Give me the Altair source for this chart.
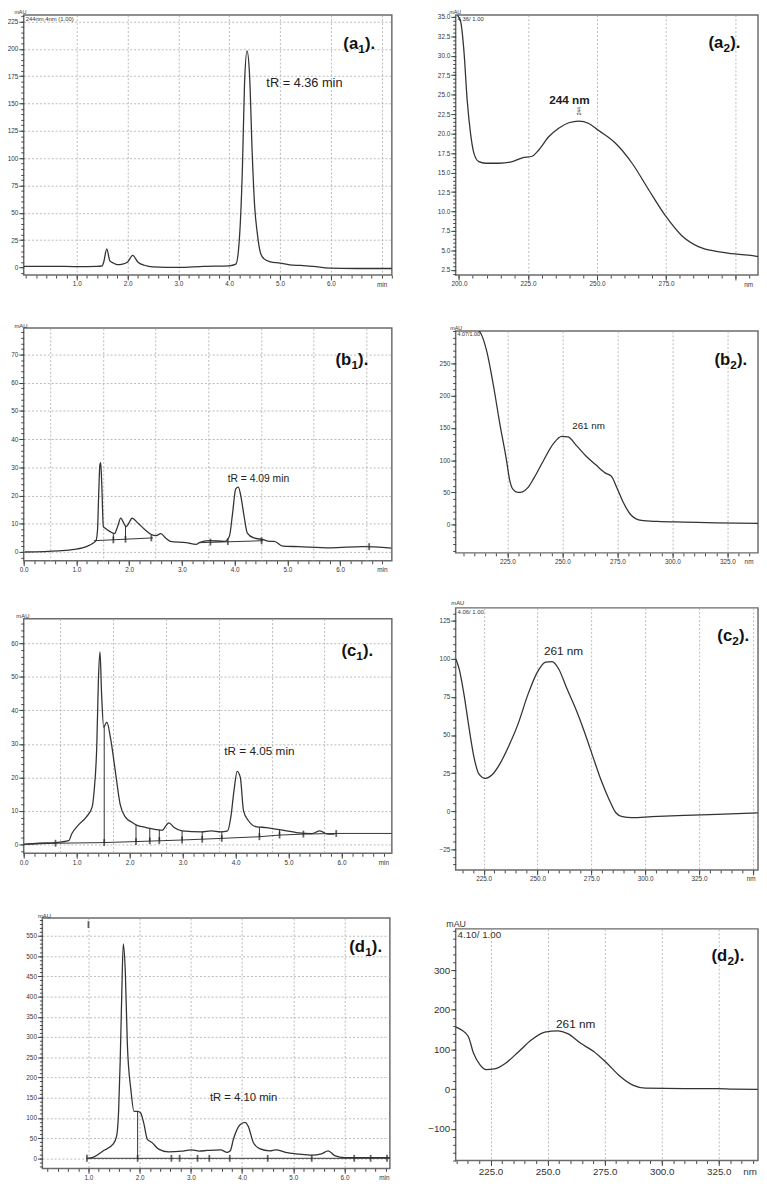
import altair as alt
import numpy as np
import pandas as pd

FONT = "Liberation Sans"
INK = "#333333"
LAB = "#333333"
GRID = "#a8a8a8"

# ---------------- data ----------------
# (a1) chromatogram
a1_t = [-0.05, 0.5, 1.0, 1.4, 1.5, 1.53, 1.59, 1.65, 1.72, 1.8, 1.9, 2.0, 2.1, 2.2, 2.33, 2.5, 3.0, 3.5, 4.0, 4.13,
        4.19, 4.26, 4.30, 4.35, 4.40, 4.45, 4.50, 4.55, 4.61, 4.68, 4.81, 5.0, 5.19, 5.4, 5.65, 5.97, 6.5, 7.2]
a1_v = [1, 1, 0.8, 1, 1.5, 5, 17, 6, 4, 2.5, 3, 5, 11, 5, 2, 0.5, 0, 1, 1.5, 3,
        20, 92, 167, 198, 176, 107, 56, 32, 14, 8, 5, 4, 2.4, 1.8, 1, -0.6, -1, -1]
# (a2) spectrum
a2_nm = [199.4, 200.6, 201.8, 203, 204.2, 205.4, 207.2, 209.6, 214.5, 219.3, 222.9, 226.5, 228.9, 232.5, 236.1,
         239.8, 243.4, 247, 250.6, 256.6, 262.7, 268.7, 274.7, 280.7, 286.7, 292.8, 298.8, 304.8, 308.4]
a2_v = [35.2, 34.4, 30.6, 24.2, 20, 17.5, 16.4, 16.2, 16.2, 16.4, 16.9, 17.1, 17.9, 19.6, 20.7,
        21.4, 21.6, 21.3, 20.4, 18.8, 16.2, 12.8, 9.5, 6.9, 5.5, 4.9, 4.6, 4.4, 4.2]
# (b1) chromatogram
b1_t = [0.02, 0.66, 0.96, 1.20, 1.32, 1.37, 1.40, 1.42, 1.445, 1.46, 1.48, 1.51, 1.54, 1.63, 1.72, 1.78, 1.84,
        1.90, 1.94, 2.02, 2.05, 2.17, 2.30, 2.42, 2.51, 2.60, 2.69, 2.78, 3.08, 3.27, 3.33, 3.51, 3.81, 3.90,
        3.96, 4.02, 4.07, 4.12, 4.18, 4.24, 4.36, 4.54, 4.66, 4.75, 4.91, 5.21, 5.82, 6.42, 6.97]
b1_v = [0, 0.4, 0.9, 2, 3.2, 4, 7.9, 19.5, 31, 31.7, 24, 9, 8.5, 7.3, 6.5, 9, 12,
        10.2, 9, 11.1, 12, 10.2, 7.9, 6.2, 5.8, 6.5, 5, 3.8, 3.3, 2.7, 3.3, 4, 3.8, 5.6,
        13.7, 22.4, 23, 19.5, 12.5, 6.7, 5, 4.4, 3.8, 3.8, 2.1, 1.9, 1.5, 1.9, 1.4]
b1_base_t1 = [1.33, 3.33]
b1_base_t2 = [2.45, 4.54]
b1_base_v1 = [4.0, 3.3]
b1_base_v2 = [5.0, 4.0]
b1_mark_t = [1.70, 1.93, 2.42, 3.54, 3.87, 4.51, 6.55]
b1_mark_v = [4.3, 4.5, 5.0, 3.5, 3.7, 4.0, 1.9]
b1_drop_t = [1.70, 1.93]
b1_drop_lo = [4.3, 4.5]
b1_drop_hi = [6.5, 9.0]
# (b2) spectrum
b2_nm = [211.3, 212.7, 215.7, 218.6, 221.6, 224.6, 226, 227.5, 229.7, 231.9, 234.2, 237.1, 241.5, 246, 249.7,
         252.6, 256.3, 260.7, 265.2, 269.6, 272.3, 274.8, 277.7, 281.4, 285.9, 293.2, 305, 319.8, 339]
b2_v = [303, 298, 268, 217, 156, 100, 70, 55, 50, 51, 57, 72.5, 100, 126, 137,
        136, 123, 106.5, 92.8, 80, 75, 57, 34.5, 14.2, 6.6, 5, 4, 3, 2]
# (c1) chromatogram
c1_t = [0.0, 0.29, 0.60, 0.85, 0.91, 1.03, 1.18, 1.29, 1.33, 1.38, 1.41, 1.44, 1.47, 1.51, 1.57, 1.64, 1.73,
        1.82, 1.92, 2.04, 2.13, 2.31, 2.50, 2.62, 2.68, 2.74, 2.84, 2.99, 3.36, 3.54, 3.72, 3.85, 3.91, 3.97,
        4.03, 4.09, 4.15, 4.24, 4.40, 4.58, 4.89, 5.19, 5.44, 5.59, 5.74, 5.87]
c1_v = [0, 0.3, 0.5, 1.1, 3.2, 5.7, 8.1, 11, 16, 29.6, 49, 57.5, 45, 35, 36.5, 31.6, 21.8,
        12, 8.1, 6.6, 5.7, 5, 4.4, 4.2, 5.4, 6.4, 5, 4, 3.7, 4, 3.7, 4, 8.1, 16,
        21.8, 19.9, 10, 7.1, 5.2, 5, 4.2, 3.4, 3.2, 4, 3, 3]
c1_base_t = [0.05, 0.60, 1.52, 2.12, 2.99, 3.74, 4.45, 4.83, 5.28, 5.90, 6.95]
c1_base_v = [0, 0.3, 0.5, 0.8, 1.27, 1.76, 2.25, 2.74, 3.03, 3.23, 3.23]
c1_mark_t = [0.60, 1.52, 2.12, 2.38, 2.56, 2.99, 3.37, 3.74, 4.45, 4.83, 5.28, 5.90]
c1_mark_v = [0.3, 0.5, 0.8, 1.0, 1.1, 1.27, 1.5, 1.76, 2.25, 2.74, 3.03, 3.23]
c1_drop_t = [1.52, 2.12, 2.38, 2.56, 2.99, 3.37, 3.74, 4.45, 4.83, 5.28, 5.90]
c1_drop_lo = [0.5, 0.8, 1.0, 1.1, 1.27, 1.5, 1.76, 2.25, 2.74, 3.03, 3.23]
c1_drop_hi = [35.3, 5.7, 4.8, 4.3, 4.0, 3.7, 3.8, 5.1, 4.5, 3.3, 3.1]
# (c2) spectrum
c2_nm = [212.1, 213.6, 215.9, 218.2, 220.5, 222.7, 225.8, 228.8, 232.6, 236.4, 240.9, 245.5, 250, 253.8, 256.8,
         259.8, 263.6, 268.2, 272.7, 275.8, 279.5, 283.3, 286.4, 289.4, 293.9, 303, 318.2, 333.3, 352.3]
c2_v = [100, 93.6, 76.4, 54.9, 35.5, 24.7, 21.5, 23.7, 31.2, 42, 57, 76.4, 91.5, 97.9, 98.3,
        93.6, 80.7, 65.6, 48.4, 35.5, 20.4, 7.5, -1.1, -3.7, -4.3, -3.7, -2.8, -2.2, -1.1]
# (d1) chromatogram
d1_t = [0.97, 1.10, 1.29, 1.48, 1.55, 1.59, 1.62, 1.65, 1.68, 1.72, 1.76, 1.83, 1.89, 1.96, 2.02, 2.08, 2.15,
        2.24, 2.37, 2.56, 2.82, 3.01, 3.16, 3.32, 3.58, 3.71, 3.77, 3.83, 3.96, 4.06, 4.12, 4.22, 4.34, 4.54,
        4.66, 4.85, 5.11, 5.36, 5.55, 5.68, 5.81, 6.0, 6.89]
d1_v = [0, 3, 18.6, 34.8, 55, 120, 241, 403, 530, 460, 281, 168, 116, 116, 112, 87, 47,
        39, 22.6, 16, 17.8, 21, 17.8, 19.4, 21, 14.6, 18.6, 47, 83, 89, 79, 39, 24, 18.6,
        21, 14.6, 10.5, 8, 11, 18.6, 6.5, 1.6, 1.6]
d1_base_t1 = [0.97]
d1_base_t2 = [6.89]
d1_base_v1 = [0]
d1_base_v2 = [0]
d1_mark_t = [0.97, 1.96, 2.62, 2.78, 3.13, 3.36, 3.76, 4.50, 5.36, 6.19, 6.51, 6.83, 1.0]
d1_mark_v = [0, 0, 0, 0, 0, 0, 0, 0, 0, 0, 0, 0, 578]
d1_drop_t = [1.96]
d1_drop_lo = [0]
d1_drop_hi = [116]
# (d2) spectrum
d2_nm = [209.6, 212.5, 215.3, 217.5, 220.3, 223.1, 226.7, 231.7, 237.4, 243.1, 248.8, 254.5, 258.8, 264.5,
         270.2, 275.9, 281.6, 287.3, 292.9, 310, 324.3, 331.4, 342.1]
d2_v = [157, 148.5, 132, 91, 62, 49.5, 51, 66, 95, 125, 144, 147, 140, 115.5,
        95, 66, 33, 10, 2.5, 1.5, 1.5, 0, -0.5]


def steps(lo, hi, step):
    n = int(np.floor((hi - lo) / step + 1e-9))
    return [round(lo + i * step, 6) for i in range(n + 1)]


def build(p):
    w, h = p["w"], p["h"]
    xd, yd = p["xdom"], p["ydom"]
    fs = p.get("fs", 6.5)
    xs = alt.Scale(domain=xd, nice=False, zero=False)
    ys = alt.Scale(domain=yd, nice=False, zero=False)
    base = alt.Chart(pd.DataFrame({"x": p["t"], "y": p["v"]}))
    ux = (p["unit_at"] - xd[0]) / (xd[1] - xd[0]) * w

    xkw = dict(orient="bottom", values=p["xmaj"], format=p["xfmt"], labelFontSize=fs, tickSize=5,
               tickWidth=1, labelPadding=1, domain=False, grid=False, labelFlush=False,
               title=p["unit"], titleX=ux, titleY=6 + 0.8 * fs, titleAlign="center",
               titleBaseline="alphabetic", titleFontSize=fs, titleFontWeight="normal")
    if p.get("hide") is not None:
        xkw["labelExpr"] = "abs(datum.value - %s) < 0.01 ? '' : datum.label" % p["hide"]
    ykw = dict(orient="left", values=p["ymaj"], format=p["yfmt"], labelFontSize=fs, tickSize=5,
               tickWidth=1, labelPadding=1, domain=False, grid=False,
               title="mAU", titleAngle=0, titleX=p["mx"], titleY=p["my"], titleAlign="left",
               titleBaseline="alphabetic", titleFontSize=p["mfs"], titleFontWeight="normal")
    ygrid = p.get("ygrid") or []
    gx = alt.Axis(orient="bottom", values=p["xgrid"], labels=False, ticks=False, domain=False, grid=True,
                  gridColor=GRID, gridDash=[2, 2], gridWidth=0.8, title=None)
    gy = alt.Axis(orient="left", values=ygrid if ygrid else [yd[0]], labels=False, ticks=False, domain=False,
                  grid=bool(ygrid), gridColor=GRID, gridDash=[2, 2], gridWidth=0.8, title=None)
    mxa = alt.Axis(orient="bottom", values=p["xminor"], labels=False, tickSize=3, tickWidth=1,
                   tickColor="#444", domain=False, grid=False, title=None)
    mya = alt.Axis(orient="left", values=p["yminor"], labels=False, tickSize=3, tickWidth=1,
                   tickColor="#444", domain=False, grid=False, title=None)

    X = lambda f: alt.X(f, type="quantitative", scale=xs, axis=None)
    Y = lambda f: alt.Y(f, type="quantitative", scale=ys, axis=None)

    layers = [
        base.mark_point(opacity=0, clip=True, size=1).encode(
            x=alt.X("x:Q", scale=xs, axis=gx), y=alt.Y("y:Q", scale=ys, axis=gy)),
        base.mark_point(opacity=0, clip=True, size=1).encode(
            x=alt.X("x:Q", scale=xs, axis=mxa), y=alt.Y("y:Q", scale=ys, axis=mya)),
    ]
    if p.get("seg"):
        s = p["seg"]
        layers.append(alt.Chart(pd.DataFrame({"a": s[0], "b": s[1], "c": s[2], "d": s[3]}))
                      .mark_rule(color=INK, strokeWidth=1.0, clip=True)
                      .encode(x=X("a"), x2="b", y=Y("c"), y2="d"))
    if p.get("bline"):
        bl = p["bline"]
        layers.append(alt.Chart(pd.DataFrame({"bx": bl[0], "by": bl[1]}))
                      .mark_line(color=INK, strokeWidth=1.0, clip=True)
                      .encode(x=X("bx"), y=Y("by")))
    if p.get("drop"):
        dr = p["drop"]
        layers.append(alt.Chart(pd.DataFrame({"dx": dr[0], "lo": dr[1], "hi": dr[2]}))
                      .mark_rule(color=INK, strokeWidth=1.0, clip=True)
                      .encode(x=X("dx"), y=Y("lo"), y2="hi"))
    if p.get("marks"):
        mk = p["marks"]
        layers.append(alt.Chart(pd.DataFrame({"mx": mk[0], "my": mk[1]}))
                      .mark_tick(orient="vertical", color="#222", thickness=1.8, size=7)
                      .encode(x=X("mx"), y=Y("my")))
    layers.append(base.mark_line(color=INK, strokeWidth=1.3, clip=True, interpolate="monotone").encode(
        x=alt.X("x:Q", scale=xs, axis=alt.Axis(**xkw)),
        y=alt.Y("y:Q", scale=ys, axis=alt.Axis(**ykw))))
    for n in p.get("notes", []):
        tkw = dict(font=FONT, fontSize=n["fs"], color="#222", fontWeight=n.get("fw", "normal"),
                   align="center", baseline="middle")
        if n.get("angle"):
            tkw["angle"] = n["angle"]
        layers.append(alt.Chart(pd.DataFrame({"nx": [n["x"]], "ny": [n["y"]], "s": [n["s"]]}))
                      .mark_text(**tkw).encode(x=X("nx"), y=Y("ny"), text="s:N"))
    if p.get("header"):
        layers.append(alt.Chart(pd.DataFrame({"s": [p["header"]]}))
                      .mark_text(font=FONT, fontSize=p.get("hfs", 6), color="#333", align="left", baseline="top")
                      .encode(x=alt.value(2), y=alt.value(1), text="s:N"))
    # panel label "(x" + lowered "n" + ")."
    lab_main, lab_sub = p["label"]
    R, B = w - p["lr"], p["lb"]
    lk = dict(font=FONT, fontWeight="bold", color="#111", align="right", baseline="alphabetic")
    layers.append(alt.Chart(pd.DataFrame({"s": [")."]})).mark_text(fontSize=17, **lk)
                  .encode(x=alt.value(R), y=alt.value(B), text="s:N"))
    layers.append(alt.Chart(pd.DataFrame({"s": [lab_sub]})).mark_text(fontSize=12, **lk)
                  .encode(x=alt.value(R - 10.5), y=alt.value(B + 4), text="s:N"))
    layers.append(alt.Chart(pd.DataFrame({"s": [lab_main]})).mark_text(fontSize=17, **lk)
                  .encode(x=alt.value(R - 17.3), y=alt.value(B), text="s:N"))
    if p.get("pad"):
        layers.append(alt.Chart(pd.DataFrame({"k": [0]})).mark_rule(opacity=0).encode(
            x=alt.value(0), x2=alt.value(w), y=alt.value(-p["pad"]), y2=alt.value(-p["pad"])))
    return alt.layer(*layers).resolve_axis(x="independent", y="independent").properties(width=w, height=h)


LW = 375
RW = 308

a1 = build(dict(t=a1_t, v=a1_v, w=LW, h=265, xdom=[-0.045, 7.2], ydom=[-7, 231],
                xmaj=[1, 2, 3, 4, 5, 6], xfmt=".1f", xminor=steps(0, 7.2, 0.2), xgrid=[1, 2, 3, 4, 5, 6, 7],
                ymaj=steps(0, 225, 25), yfmt="d", yminor=steps(-5, 230, 5), ygrid=steps(25, 225, 25),
                unit="min", unit_at=7.0, mx=-10, my=-1.5, mfs=5.5, label=("(a", "1"), lr=17, lb=35,
                header="244nm,4nm (1.00)",
                notes=[dict(x=5.48, y=168.6, s="tR = 4.36 min", fs=13)]))
a2 = build(dict(t=a2_nm, v=a2_v, w=RW, h=265, xdom=[198.8, 308.3], ydom=[1.84, 35.25],
                xmaj=[200, 225, 250, 275, 300], hide=300, xfmt=".1f", xminor=steps(200, 305, 5),
                xgrid=[225, 250, 275, 300], ymaj=steps(2.5, 35, 2.5), yfmt=".1f", yminor=steps(2, 35, 0.5),
                unit="nm", unit_at=304.7, mx=-7, my=-1.5, mfs=5.5, label=("(a", "2"), lr=18, lb=34,
                header="4.36/ 1.00",
                notes=[dict(x=240, y=24.3, s="244 nm", fs=12, fw="bold"),
                       dict(x=243.4, y=22.9, s="244", fs=5, angle=270)]))
b1 = build(dict(t=b1_t, v=b1_v, w=LW, h=237, xdom=[0.0, 6.98], ydom=[-3.1, 79.4],
                xmaj=[0, 1, 2, 3, 4, 5, 6], xfmt=".1f", xminor=steps(0, 6.9, 0.2),
                xgrid=[0.5, 1.5, 2.5, 3.5, 4.5, 5.5, 6.5], ymaj=steps(0, 70, 10), yfmt="d",
                yminor=steps(-2, 78, 2), ygrid=steps(0, 70, 10),
                unit="min", unit_at=6.79, mx=-10, my=-1, mfs=6, label=("(b", "1"), lr=24, lb=38, pad=39,
                seg=[b1_base_t1, b1_base_t2, b1_base_v1, b1_base_v2],
                drop=[b1_drop_t, b1_drop_lo, b1_drop_hi], marks=[b1_mark_t, b1_mark_v],
                notes=[dict(x=4.45, y=25.9, s="tR = 4.09 min", fs=10.5)]))
b2 = build(dict(t=b2_nm, v=b2_v, w=RW, h=226, xdom=[201.5, 338.9], ydom=[-43.7, 300.3],
                xmaj=[225, 250, 275, 300, 325], xfmt=".1f", xminor=steps(205, 335, 5),
                xgrid=[225, 250, 275, 300, 325], ymaj=steps(0, 250, 50), yfmt="d", yminor=steps(-40, 300, 10),
                unit="nm", unit_at=334.6, mx=-6, my=-2, mfs=5.5, label=("(b", "2"), lr=11, lb=35, pad=42,
                header="4.07/1.00", hfs=5.5,
                notes=[dict(x=261.9, y=153.6, s="261 nm", fs=10)]))
c1 = build(dict(t=c1_t, v=c1_v, w=LW, h=239, xdom=[0.0, 6.95], ydom=[-2.7, 67.4],
                xmaj=[0, 1, 2, 3, 4, 5, 6], xfmt=".1f", xminor=steps(0, 6.9, 0.2),
                xgrid=[0.68, 1.68, 2.68, 3.68, 4.68, 5.68], ymaj=steps(0, 60, 10), yfmt="d",
                yminor=steps(-2, 66, 2), ygrid=steps(0, 60, 10),
                unit="min", unit_at=6.79, mx=-8, my=-1, mfs=6, label=("(c", "1"), lr=19, lb=38, pad=44,
                bline=[c1_base_t, c1_base_v], drop=[c1_drop_t, c1_drop_lo, c1_drop_hi],
                marks=[c1_mark_t, c1_mark_v],
                notes=[dict(x=4.45, y=27.7, s="tR = 4.05 min", fs=12)]))
c2 = build(dict(t=c2_nm, v=c2_v, w=RW, h=267, xdom=[212.0, 352.4], ydom=[-38.7, 133.6],
                xmaj=[225, 250, 275, 300, 325, 350], hide=350, xfmt=".1f", xminor=steps(215, 350, 5),
                xgrid=[225, 250, 275, 300, 325, 350], ymaj=steps(-25, 125, 25), yfmt="d",
                yminor=steps(-35, 130, 5),
                unit="nm", unit_at=349, mx=-5, my=-3, mfs=6, label=("(c", "2"), lr=9, lb=34, pad=41,
                header="4.06/ 1.00",
                notes=[dict(x=262.1, y=105.4, s="261 nm", fs=12)]))
d1 = build(dict(t=d1_t, v=d1_v, w=354, h=255, xdom=[0.10, 6.886], ydom=[-25, 594],
                xmaj=[1, 2, 3, 4, 5, 6], xfmt=".1f", xminor=steps(0.2, 6.8, 0.2), xgrid=[1, 2, 3, 4, 5, 6],
                ymaj=steps(0, 550, 50), yfmt="d", yminor=steps(-20, 590, 10), ygrid=steps(0, 550, 50),
                unit="min", unit_at=6.77, mx=-5, my=-1, mfs=6, label=("(d", "1"), lr=8, lb=35, pad=51,
                seg=[d1_base_t1, d1_base_t2, d1_base_v1, d1_base_v2],
                drop=[d1_drop_t, d1_drop_lo, d1_drop_hi], marks=[d1_mark_t, d1_mark_v],
                notes=[dict(x=4.03, y=148, s="tR = 4.10 min", fs=11.5)]))
d2 = build(dict(t=d2_nm, v=d2_v, w=RW, h=236, xdom=[209.7, 342.2], ydom=[-180, 404], fs=10,
                xmaj=[225, 250, 275, 300, 325], xfmt=".1f", xminor=steps(210, 340, 5),
                xgrid=[225, 250, 275, 300, 325], ymaj=steps(-100, 300, 100), yfmt="d", yminor=steps(-180, 400, 20),
                unit="nm", unit_at=338.5, mx=-10, my=-2, mfs=9, label=("(d", "2"), lr=14, lb=33, pad=45,
                header="4.10/ 1.00", hfs=10,
                notes=[dict(x=262.3, y=165, s="261 nm", fs=12)]))

spacer = alt.Chart(pd.DataFrame({"k": [0]})).mark_point(opacity=0, size=1).encode(
    x=alt.value(0), y=alt.value(0)).properties(width=1, height=1, view=alt.ViewBackground(strokeOpacity=0))

left = alt.vconcat(a1, b1, c1, alt.hconcat(spacer, d1, spacing=0), spacing=0)
right = alt.vconcat(a2, b2, c2, d2, spacing=0)

chart = (alt.hconcat(left, right, spacing=33)
         .properties(padding={"left": -2, "top": -11, "right": 0, "bottom": 0})
         .configure_view(stroke="#6b6b6b", strokeWidth=1.5)
         .configure_axis(labelFont=FONT, titleFont=FONT, labelColor=LAB, tickColor="#444", titleColor=LAB))

chart.save("out.html", embed_options={"renderer": "svg", "actions": False})
